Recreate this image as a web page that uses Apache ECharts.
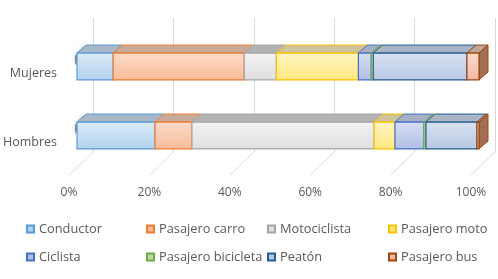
<!DOCTYPE html>
<html>
<head>
<meta charset="utf-8">
<script src="https://cdn.jsdelivr.net/npm/echarts@6/dist/echarts.min.js"></script>
<style>
html,body{margin:0;padding:0;background:#fff;}
#chart{width:498px;height:279px;}
</style>
</head>
<body>
<div id="chart"></div>
<script>
var categories = ['Mujeres', 'Hombres'];
var seriesNames = ['Conductor', 'Pasajero carro', 'Motociclista', 'Pasajero moto', 'Ciclista', 'Pasajero bicicleta', 'Peatón', 'Pasajero bus'];
var mujeres = [9.0, 32.6, 8.0, 20.4, 3.2, 0.5, 23.3, 3.0];
var hombres = [19.4, 9.2, 45.3, 5.2, 7.2, 0.5, 12.7, 0.5];
var xTicks = [0, 20, 40, 60, 80, 100];

// colores: borde, frente arriba, frente abajo, cara superior
var colores = [
  ['#5b9bd5', '#dcebf8', '#b0d2ef', '#a9b8c6'],
  ['#ed7d31', '#fcdcca', '#f8bb98', '#c9ab9c'],
  ['#a5a5a5', '#f4f4f4', '#dedede', '#b3b3b3'],
  ['#ffc000', '#fff5c4', '#ffe880', '#cdc39c'],
  ['#4472c4', '#d8def2', '#b0bee6', '#a8b0c6'],
  ['#70ad47', '#dcebd2', '#bcdaa8', '#a8b8a0'],
  ['#255e91', '#d9e1f0', '#b7c8e4', '#a9b4c4'],
  ['#9e480e', '#f9dcd0', '#efb8a2', '#c0a498']
];
var DX = 9, DY = 8;

var dom = document.getElementById('chart');
var myChart = echarts.init(dom);

function makeRender(k){
  return function(params, api){
    var s = api.value(0), c = api.value(1), e = api.value(2);
    var p0 = api.coord([s, c]), p1 = api.coord([e, c]);
    var h = api.size([0, 1])[1] * 0.39;
    var top = p0[1] - h / 2, bot = p0[1] + h / 2;
    var x0 = p0[0], x1 = p1[0];
    var col = colores[k];
    var kids = [];
    if(k == 0){
      kids.push({type:'polygon', shape:{points:[[x0-2,top+3],[x0+DX-2,top-DY+1],[x0+DX-2,top-DY+8],[x0-2,top+12]]},
        style:{fill:'rgba(60,60,60,0.55)', shadowBlur:4, shadowColor:'rgba(0,0,0,0.4)'}});
    }
    kids.push({type:'polygon', shape:{points:[[x0,top],[x1,top],[x1+DX,top-DY],[x0+DX,top-DY]]},
      style:{fill:col[3], stroke:col[0], lineWidth:1}});
    if(k == colores.length - 1){
      kids.push({type:'polygon', shape:{points:[[x1,top],[x1+DX,top-DY],[x1+DX,bot-DY],[x1,bot]]},
        style:{fill:'#a26e56', stroke:col[0], lineWidth:1}});
    }
    kids.push({type:'rect', shape:{x:x0, y:top, width:x1-x0, height:bot-top},
      style:{fill:new echarts.graphic.LinearGradient(0,0,0,1,[{offset:0,color:col[1]},{offset:1,color:col[2]}]),
        stroke:col[0], lineWidth:1.2}});
    return {type:'group', children:kids};
  };
}

var series = [];
var accM = 0, accH = 0;
for(var k = 0; k < seriesNames.length; k++){
  var d = [
    [accM, 0, accM + mujeres[k]],
    [accH, 1, accH + hombres[k]]
  ];
  accM += mujeres[k];
  accH += hombres[k];
  series.push({
    type:'custom',
    name:seriesNames[k],
    xAxisIndex:0, yAxisIndex:0,
    renderItem:makeRender(k),
    encode:{x:[0,2], y:1},
    itemStyle:{color:colores[k][2], borderColor:colores[k][0], borderWidth:1},
    data:d,
    z:5 + k,
    silent:true
  });
}

// lineas del piso (de la pared del fondo hacia el frente)
series.push({
  type:'custom',
  xAxisIndex:2, yAxisIndex:2,
  renderItem:function(params, api){
    var p = api.coord([api.value(0), 0]);
    return {type:'line', shape:{x1:p[0], y1:p[1], x2:p[0]-24, y2:p[1]+23},
      style:{stroke:'#d9d9d9', lineWidth:1}};
  },
  data:xTicks.map(function(v){ return [v]; }),
  encode:{x:0},
  silent:true,
  z:1
});

var txt = '#595959';
var fontFam = 'Open Sans';
var columnas = [[0,4],[1,5],[2,6],[3,7]];
var lefts = [26, 146, 267, 388];
var legends = columnas.map(function(cc, i){
  return {
    orient:'vertical',
    left:lefts[i], top:222, padding:0,
    itemWidth:7, itemHeight:7, itemGap:14,
    icon:'rect',
    data:cc.map(function(j){ return seriesNames[j]; }),
    textStyle:{color:txt, fontSize:12.8, fontFamily:fontFam, lineHeight:14},
    selectedMode:false
  };
});

myChart.setOption({
  animation:false,
  grid:[
    {left:77, width:402, top:32, bottom:109},
    {left:69, width:402, top:40, height:135},
    {left:93, width:402, top:18, height:134},
    {left:77, width:402, top:39, bottom:102}
  ],
  xAxis:[
    {gridIndex:0, type:'value', min:0, max:100, interval:20, show:false},
    {gridIndex:1, type:'value', min:0, max:100, interval:20,
      axisLine:{show:false}, axisTick:{show:false}, splitLine:{show:false},
      axisLabel:{formatter:'{value}%', color:txt, fontSize:12, fontFamily:fontFam, margin:12}},
    {gridIndex:2, type:'value', min:0, max:100, interval:20,
      axisLine:{show:false}, axisTick:{show:false}, axisLabel:{show:false},
      splitLine:{show:true, lineStyle:{color:'#d9d9d9', width:1}}},
    {gridIndex:3, type:'value', min:0, max:100, show:false}
  ],
  yAxis:[
    {gridIndex:0, type:'category', data:categories, inverse:true, show:false},
    {gridIndex:1, type:'value', show:false},
    {gridIndex:2, type:'value', show:false, min:0, max:1},
    {gridIndex:3, type:'category', data:categories, inverse:true,
      axisLine:{show:false}, axisTick:{show:false}, splitLine:{show:false},
      axisLabel:{color:txt, fontSize:12.5, fontFamily:fontFam, margin:20}}
  ],
  legend:legends,
  series:series
});
</script>
</body>
</html>
